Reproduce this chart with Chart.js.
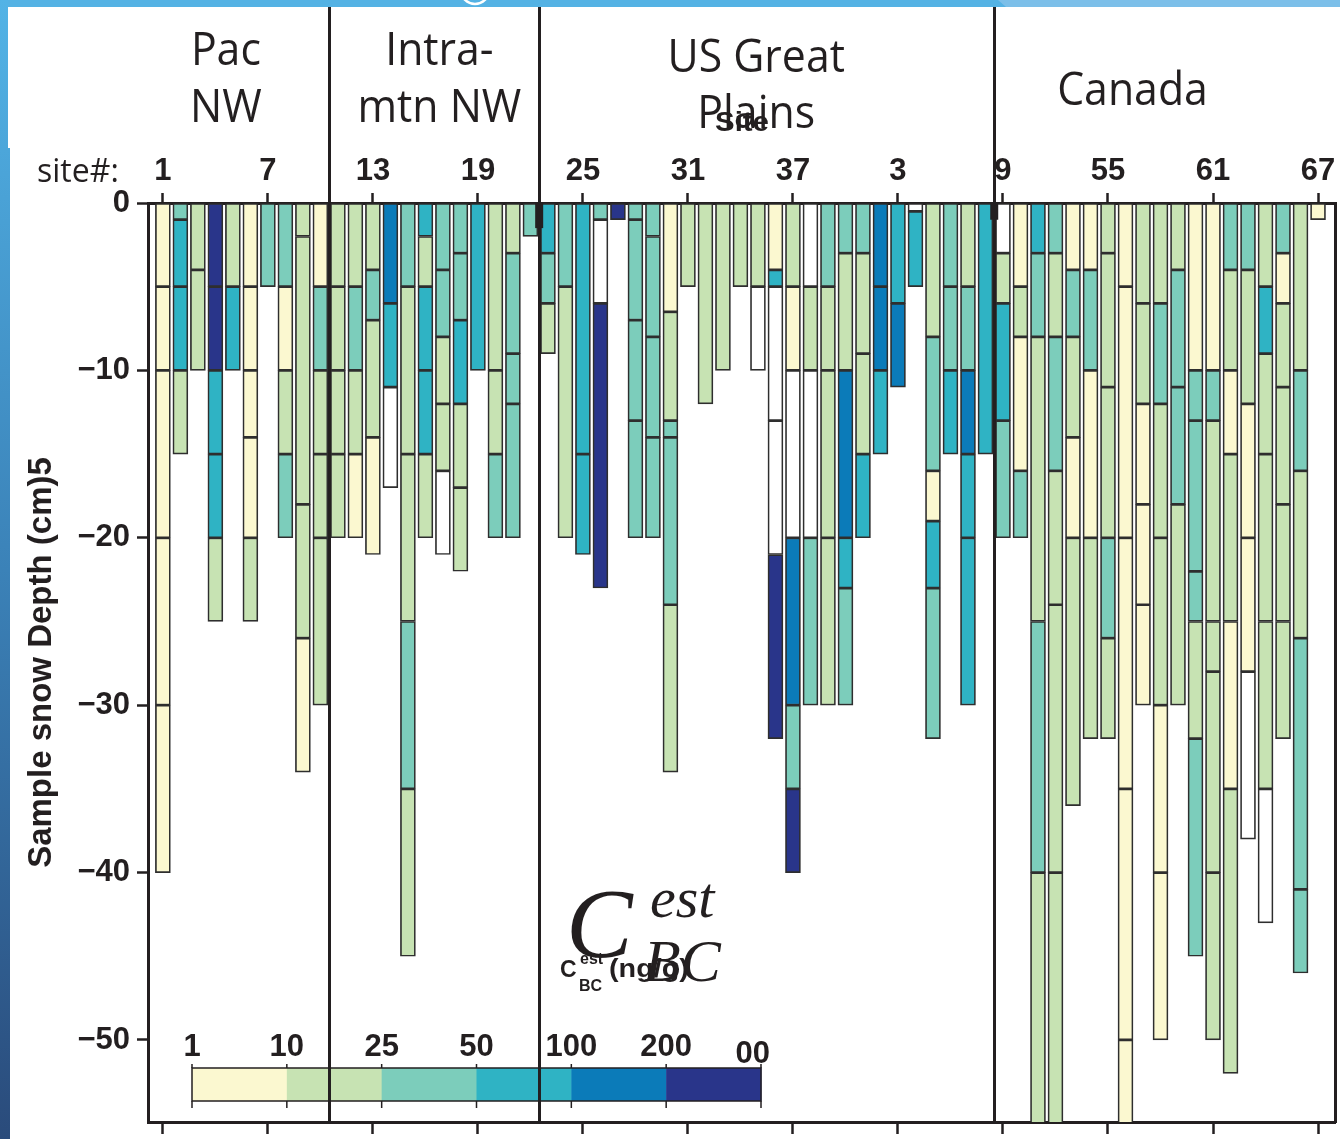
<!DOCTYPE html>
<html>
<head>
<meta charset="utf-8">
<script src="https://cdn.jsdelivr.net/npm/chart.js@4.4.1/dist/chart.umd.min.js"></script>
<style>
  html, body { margin: 0; padding: 0; background: #fff; overflow: hidden; }
  canvas { display: block; }
</style>
</head>
<body>
<canvas id="c" width="1340" height="1139"></canvas>
<script>
// Snow samples at each site: boundary depths of the sampled layers (cm below surface)
// and the concentration class of each layer between two consecutive boundaries.
// Classes: 0 = 1–10, 1 = 10–25, 2 = 25–50, 3 = 50–100, 4 = 100–200, 5 = 200–600 ng/g; -1 = unclassified (white)
const layerDepths = [
  [0,-5,-10,-20,-30,-40],        // 1
  [0,-1,-5,-10,-15],             // 2
  [0,-4,-10],                    // 3
  [0,-5,-10,-15,-20,-25],        // 4
  [0,-5,-10],                    // 5
  [0,-5,-10,-14,-20,-25],        // 6
  [0,-5],                        // 7
  [0,-5,-10,-15,-20],            // 8
  [0,-2,-18,-26,-34],            // 9
  [0,-5,-10,-15,-20,-30],        // 10
  [0,-5,-10,-15,-20],            // 11
  [0,-5,-10,-15,-20],            // 12
  [0,-4,-7,-14,-21],             // 13
  [0,-6,-11,-17],                // 14
  [0,-5,-15,-25,-35,-45],        // 15
  [0,-2,-5,-10,-15,-20],         // 16
  [0,-4,-8,-12,-16,-21],         // 17
  [0,-3,-7,-12,-17,-22],         // 18
  [0,-10],                       // 19
  [0,-10,-15,-20],               // 20
  [0,-3,-9,-12,-20],             // 21
  [0,-2],                        // 22
  [0,-3,-6,-9],                  // 23
  [0,-5,-20],                    // 24
  [0,-15,-21],                   // 25
  [0,-1,-6,-23],                 // 26
  [0,-1],                        // 27
  [0,-1,-7,-13,-20],             // 28
  [0,-2,-8,-14,-20],             // 29
  [0,-6.5,-13,-14,-24,-34],      // 30
  [0,-5],                        // 31
  [0,-12],                       // 32
  [0,-10],                       // 33
  [0,-5],                        // 34
  [0,-5,-10],                    // 35
  [0,-4,-5,-13,-21,-32],         // 36
  [0,-5,-10,-20,-30,-35,-40],    // 37
  [0,-5,-10,-20,-30],            // 38
  [0,-5,-10,-20,-30],            // 39
  [0,-3,-10,-20,-23,-30],        // 40
  [0,-3,-9,-15,-20],             // 41
  [0,-5,-10,-15],                // 42
  [0,-6,-11],                    // 43
  [0,-0.5,-5],                   // 44
  [0,-8,-16,-19,-23,-32],        // 45
  [0,-5,-10,-15],                // 46
  [0,-5,-10,-15,-20,-30],        // 47
  [0,-15],                       // 48
  [0,-3,-6,-13,-20],             // 49
  [0,-5,-8,-16,-20],             // 50
  [0,-3,-8,-25,-40,-55],         // 51
  [0,-3,-8,-16,-24,-40,-55],     // 52
  [0,-4,-8,-14,-20,-36],         // 53
  [0,-4,-10,-20,-32],            // 54
  [0,-3,-11,-20,-26,-32],        // 55
  [0,-5,-20,-35,-50,-55],        // 56
  [0,-6,-12,-18,-24,-30],        // 57
  [0,-6,-12,-20,-30,-40,-50],    // 58
  [0,-4,-11,-18,-30],            // 59
  [0,-10,-13,-22,-25,-32,-45],   // 60
  [0,-10,-13,-25,-28,-40,-50],   // 61
  [0,-4,-10,-15,-25,-35,-52],    // 62
  [0,-4,-12,-20,-28,-38],        // 63
  [0,-5,-9,-15,-25,-35,-43],     // 64
  [0,-3,-6,-11,-18,-25,-32],     // 65
  [0,-10,-16,-26,-41,-46],       // 66
  [0,-1]                         // 67
];

const layerClasses = [
  [0,0,0,0,0], [2,3,3,1], [1,1], [5,5,3,3,1], [1,3], [0,0,0,0,1], [2], [2,0,1,2], [1,1,1,0], [0,2,1,1,1],
  [1,1,1,1], [1,2,1,0], [1,2,1,0], [4,3,-1], [2,1,1,2,1], [3,1,3,3,1], [2,2,1,1,-1], [2,2,3,1,1], [3], [1,1,2],
  [1,2,2,2], [2], [3,2,1], [2,1], [3,3], [2,-1,5], [5], [2,2,2,2], [2,2,2,2], [0,1,2,2,1],
  [1], [1], [1], [1], [1,-1], [0,3,-1,-1,5], [1,0,-1,4,2,5], [-1,1,-1,2], [2,1,1,1], [2,1,4,3,2],
  [2,1,1,3], [4,4,3], [3,4], [-1,3], [1,2,0,3,2], [2,2,3], [1,2,4,3,3], [3], [-1,1,3,2], [0,1,0,2],
  [3,2,1,2,1], [2,1,2,1,1,1], [0,2,1,0,1], [0,2,0,1], [1,1,1,2,1], [0,0,0,0,0], [1,1,0,0,0], [1,2,1,1,0,0], [1,2,2,1], [0,2,2,2,1,2],
  [0,2,1,1,1,1], [2,1,0,1,0,1], [2,1,0,0,-1], [1,3,1,1,1,-1], [2,0,1,1,1,1], [1,2,1,2,2], [0]
];

const classColors = ['#fbf8d0', '#c7e3b3', '#7ccdbb', '#2fb3c4', '#0b7bb9', '#29358a'];
const unclassifiedColor = '#ffffff';
const legendLabels = ['1', '10', '25', '50', '100', '200', '00'];
const siteTicks = [1, 7, 13, 19, 25, 31, 37, 43, 49, 55, 61, 67];
const siteTickLabels = ['1', '7', '13', '19', '25', '31', '37', '3', '9', '55', '61', '67'];
const depthTicks = [0, -10, -20, -30, -40, -50];
const regionNames = [['Pac', 'NW'], ['Intra-', 'mtn NW'], ['US Great', 'Plains'], ['Canada']];
const regionBreaks = [10.5, 22.5, 48.5];

const INK = '#231f20';
const SANS = "'Liberation Sans', Arial, Helvetica, sans-serif";
const TITLE_SANS = "'Open Sans', 'Noto Sans', sans-serif";
const SERIF = "'Liberation Serif', 'Times New Roman', serif";

// one floating-bar dataset per concentration class
const classOrder = [-1, 0, 1, 2, 3, 4, 5];
const datasets = classOrder.map(k => {
  const data = [];
  layerDepths.forEach((bounds, si) => {
    layerClasses[si].forEach((c, li) => {
      if (c === k) data.push({ x: si + 1, y: [bounds[li], bounds[li + 1]] });
    });
  });
  return {
    label: k < 0 ? 'unclassified' : legendLabels[k] + '–' + legendLabels[k + 1],
    data,
    backgroundColor: k < 0 ? unclassifiedColor : classColors[k]
  };
});

const X_MIN = 0.15, X_MAX = 67.97;
const setSiteTicks = s => { s.ticks = siteTicks.map(v => ({ value: v })); };
const setDepthTicks = s => { s.ticks = depthTicks.map(v => ({ value: v })); };
const fmtDepth = v => (v < 0 ? '\u2212' + Math.abs(v) : String(v));
// fixed axis boxes so the plot area lands where the frame is drawn
const fixBox = (w, h) => s => {
  if (w !== null) s.width = w;
  if (h !== null) s.height = h;
  s.paddingTop = s.paddingBottom = s.paddingLeft = s.paddingRight = 0;
};

// page backdrop: white sheet with blue border strips
const backdrop = {
  id: 'backdrop',
  beforeDraw(chart) {
    const ctx = chart.ctx, W = chart.width, H = chart.height;
    ctx.save();
    ctx.fillStyle = '#ffffff';
    ctx.fillRect(0, 0, W, H);
    ctx.fillStyle = '#54b2e4';
    ctx.fillRect(0, 0, W, 7);
    ctx.fillStyle = '#7cbfe9';
    ctx.beginPath();
    ctx.moveTo(998, 0); ctx.lineTo(W, 0); ctx.lineTo(W, 7); ctx.lineTo(1006, 7); ctx.closePath();
    ctx.fill();
    ctx.strokeStyle = '#ffffff';
    ctx.lineWidth = 2.5;
    ctx.beginPath(); ctx.arc(475, -10, 14, 0, Math.PI); ctx.stroke();
    const g = ctx.createLinearGradient(0, 0, 0, H);
    g.addColorStop(0, '#52b3e6');
    g.addColorStop(0.5, '#3b82b8');
    g.addColorStop(1, '#2a4b7b');
    ctx.fillStyle = g;
    ctx.fillRect(0, 0, 8, H);
    ctx.fillRect(0, 148, 10, H - 148);
    ctx.restore();
  }
};

function drawScaled(ctx, text, x, baseline, font, sx, align) {
  ctx.save();
  ctx.font = font;
  ctx.translate(x, baseline);
  ctx.scale(sx, 1);
  ctx.textAlign = align || 'center';
  ctx.textBaseline = 'alphabetic';
  ctx.fillText(text, 0, 0);
  ctx.restore();
}

// colour key, region dividers, region names and annotations
const overlay = {
  id: 'overlay',
  afterDatasetsDraw(chart) {
    const ctx = chart.ctx;
    const xs = chart.scales.x, ys = chart.scales.y;
    const area = chart.chartArea;
    ctx.save();

    // colour key
    const kx0 = 192, kx1 = 761, ky0 = 1068, ky1 = 1101;
    const kw = (kx1 - kx0) / classColors.length;
    classColors.forEach((c, i) => {
      ctx.fillStyle = c;
      ctx.fillRect(kx0 + i * kw, ky0, kw + 0.5, ky1 - ky0);
    });
    ctx.strokeStyle = INK;
    ctx.lineWidth = 1.5;
    ctx.strokeRect(kx0, ky0, kx1 - kx0, ky1 - ky0);
    ctx.beginPath();
    for (let i = 0; i <= classColors.length; i++) {
      const x = kx0 + i * kw;
      ctx.moveTo(x, ky1); ctx.lineTo(x, ky1 + 7);
      ctx.moveTo(x, ky0); ctx.lineTo(x, ky0 - 4);
    }
    ctx.stroke();
    ctx.fillStyle = INK;
    ctx.font = 'bold 31px ' + SANS;
    ctx.textBaseline = 'alphabetic';
    legendLabels.forEach((t, i) => {
      if (i === legendLabels.length - 1) {
        ctx.textAlign = 'right';
        ctx.fillText(t, kx0 + i * kw + 9, ky0 - 5);
      } else {
        ctx.textAlign = 'center';
        ctx.fillText(t, kx0 + i * kw, ky0 - 12);
      }
    });

    // region dividers
    ctx.strokeStyle = INK;
    ctx.lineWidth = 3;
    ctx.beginPath();
    regionBreaks.forEach(b => {
      const x = Math.round(xs.getPixelForValue(b)) + 0.5;
      ctx.moveTo(x, 7); ctx.lineTo(x, area.bottom);
    });
    ctx.stroke();
    ctx.fillStyle = INK;
    const b2 = xs.getPixelForValue(regionBreaks[1]);
    ctx.fillRect(b2 - 4, ys.getPixelForValue(0), 8, ys.getPixelForValue(-1.5) - ys.getPixelForValue(0));
    const b3 = xs.getPixelForValue(regionBreaks[2]);
    ctx.fillRect(b3 - 4, ys.getPixelForValue(0), 8, ys.getPixelForValue(-1) - ys.getPixelForValue(0));

    // region names
    ctx.fillStyle = INK;
    const headFont = '46px ' + TITLE_SANS;
    const centers = [4.6, 16.8, 34.9, 56.4];
    const baselines = [[65, 122], [65, 122], [72, 128], [105]];
    regionNames.forEach((lines, r) => {
      const cx = xs.getPixelForValue(centers[r]);
      lines.forEach((t, li) => drawScaled(ctx, t, cx, baselines[r][li], headFont, 0.93));
    });
    drawScaled(ctx, 'Site', 742, 131, 'bold 28px ' + SANS, 1.05);

    ctx.font = '32px ' + TITLE_SANS;
    ctx.textAlign = 'left';
    ctx.fillText('site#:', 37, 182);

    // key title: C_BC^est (ng/g)
    ctx.font = 'bold 23px ' + SANS;
    ctx.textAlign = 'left';
    ctx.fillText('C', 560, 977);
    ctx.font = 'bold 16px ' + SANS;
    ctx.fillText('est', 580, 964);
    ctx.fillText('BC', 579, 991);
    drawScaled(ctx, '(ng/g)', 609, 977, 'bold 25px ' + SANS, 1.15, 'left');

    ctx.font = 'italic 100px ' + SERIF;
    ctx.fillText('C', 566, 957);
    ctx.font = 'italic 58px ' + SERIF;
    ctx.fillText('est', 650, 917);
    ctx.font = 'italic 60px ' + SERIF;
    ctx.fillText('BC', 644, 981);

    ctx.restore();
  }
};

const axisGrid = { drawOnChartArea: false, drawTicks: true, tickWidth: 2.5, color: INK, offset: false };
const axisBorder = { display: true, width: 3, color: INK };

new Chart(document.getElementById('c'), {
  type: 'bar',
  data: { datasets },
  plugins: [backdrop, overlay],
  options: {
    responsive: false,
    animation: false,
    devicePixelRatio: 1,
    layout: { padding: 0, autoPadding: false },
    plugins: { legend: { display: false }, tooltip: { enabled: false } },
    datasets: {
      bar: {
        grouped: false,
        barThickness: 15,
        borderWidth: 1.7,
        borderColor: '#2e2e2e',
        borderSkipped: false
      }
    },
    scales: {
      x: {
        type: 'linear', position: 'top', min: X_MIN, max: X_MAX, offset: false,
        afterBuildTicks: setSiteTicks,
        afterFit: fixBox(null, 203),
        ticks: {
          autoSkip: false, maxRotation: 0, minRotation: 0, padding: 3, color: INK,
          font: { family: SANS, size: 31, weight: 'bold' },
          callback: (v, i) => siteTickLabels[i]
        },
        grid: Object.assign({ tickLength: 10 }, axisGrid),
        border: axisBorder
      },
      xb: {
        type: 'linear', position: 'bottom', min: X_MIN, max: X_MAX, offset: false,
        afterBuildTicks: setSiteTicks,
        afterFit: fixBox(null, 17),
        ticks: { autoSkip: false, maxRotation: 0, callback: () => '' },
        grid: Object.assign({ tickLength: 12 }, axisGrid),
        border: axisBorder
      },
      y: {
        type: 'linear', position: 'left', min: -54.9, max: 0,
        afterBuildTicks: setDepthTicks,
        afterFit: fixBox(148, null),
        ticks: {
          padding: 7, color: INK,
          font: { family: SANS, size: 31, weight: 'bold' },
          callback: v => fmtDepth(v)
        },
        grid: Object.assign({ tickLength: 11 }, axisGrid),
        border: axisBorder,
        title: {
          display: true, text: 'Sample snow Depth (cm)5', color: INK,
          font: { family: SANS, size: 33, weight: 'bold' },
          padding: { top: 22, bottom: 0 }
        }
      },
      yr: {
        type: 'linear', position: 'right', min: -54.9, max: 0,
        afterFit: fixBox(5, null),
        ticks: { display: false },
        grid: { display: false },
        border: axisBorder
      }
    }
  }
});
</script>
</body>
</html>
